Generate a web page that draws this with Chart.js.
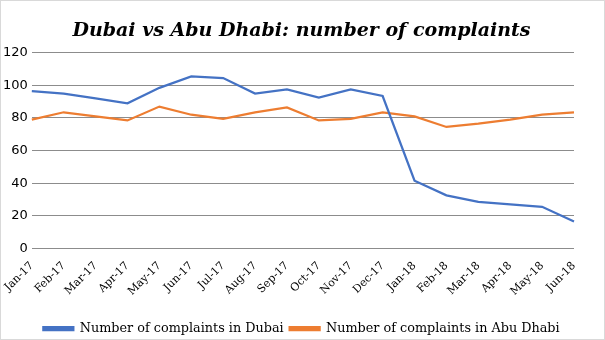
<!DOCTYPE html>
<html>
<head>
<meta charset="utf-8">
<script src="https://cdn.jsdelivr.net/npm/chart.js@4.4.0/dist/chart.umd.min.js"></script>
<style>
  html, body { margin: 0; padding: 0; background: #fff; }
  #wrap { width: 605px; height: 340px; box-sizing: border-box; border: 1px solid #d9d9d9; position: relative; }
  #chart { display: block; }
</style>
</head>
<body>
<div id="wrap"><canvas id="chart" width="603" height="338"></canvas></div>
<script>
const months = ['Jan-17','Feb-17','Mar-17','Apr-17','May-17','Jun-17','Jul-17','Aug-17','Sep-17',
                'Oct-17','Nov-17','Dec-17','Jan-18','Feb-18','Mar-18','Apr-18','May-18','Jun-18'];
const dubai    = [96.5, 95, 92, 89, 98.5, 105.5, 104.5, 95, 97.5, 92.5, 97.5, 93.5, 41.5, 32.5, 28.5, 27, 25.5, 16.5];
const abuDhabi = [79, 83.5, 81, 78.5, 87, 82, 79.5, 83.5, 86.5, 78.5, 79.5, 83.5, 81, 74.5, 76.5, 79, 82, 83.5];
const yTicks   = [0, 20, 40, 60, 80, 100, 120];

new Chart(document.getElementById('chart'), {
  type: 'line',
  data: {
    labels: months,
    datasets: [
      { label: 'Number of complaints in Dubai', data: dubai,
        borderColor: '#4472C4', backgroundColor: '#4472C4', borderWidth: 2.25,
        pointRadius: 0, tension: 0 },
      { label: 'Number of complaints in Abu Dhabi', data: abuDhabi,
        borderColor: '#ED7D31', backgroundColor: '#ED7D31', borderWidth: 2.25,
        pointRadius: 0, tension: 0 }
    ]
  },
  options: {
    responsive: false,
    animation: false,
    devicePixelRatio: 1,
    layout: { padding: { left: -2, right: 0, top: 10, bottom: -6 } },
    plugins: {
      title: {
        display: true,
        text: 'Dubai vs Abu Dhabi: number of complaints',
        color: '#000',
        font: { family: 'DejaVu Serif', size: 19, weight: 'bold', style: 'italic' },
        padding: { top: 9, bottom: 10 }
      },
      legend: {
        position: 'bottom',
        labels: {
          color: '#000',
          boxWidth: 30, boxHeight: 3,
          font: { family: 'DejaVu Serif', size: 12.8 },
          padding: 6
        }
      },
      tooltip: { enabled: false }
    },
    scales: {
      x: {
        offset: false,
        grid: { display: false },
        border: { display: false },
        ticks: {
          color: '#000', minRotation: 45, maxRotation: 45, autoSkip: false,
          font: { family: 'DejaVu Serif', size: 11 }
        },
        afterFit: axis => { axis.height += 15; }
      },
      y: {
        min: 0, max: 120,
        afterBuildTicks: axis => { axis.ticks = yTicks.map(v => ({ value: v })); },
        grid: { color: '#8c8c8c', lineWidth: 1, drawTicks: false },
        border: { display: false },
        ticks: {
          color: '#000', padding: 4,
          font: { family: 'DejaVu Sans', size: 13 }
        }
      },
      yRight: {
        position: 'right',
        grid: { display: false },
        border: { display: false },
        ticks: { display: false },
        afterFit: axis => { axis.width = 30; }
      }
    }
  }
});
</script>
</body>
</html>
